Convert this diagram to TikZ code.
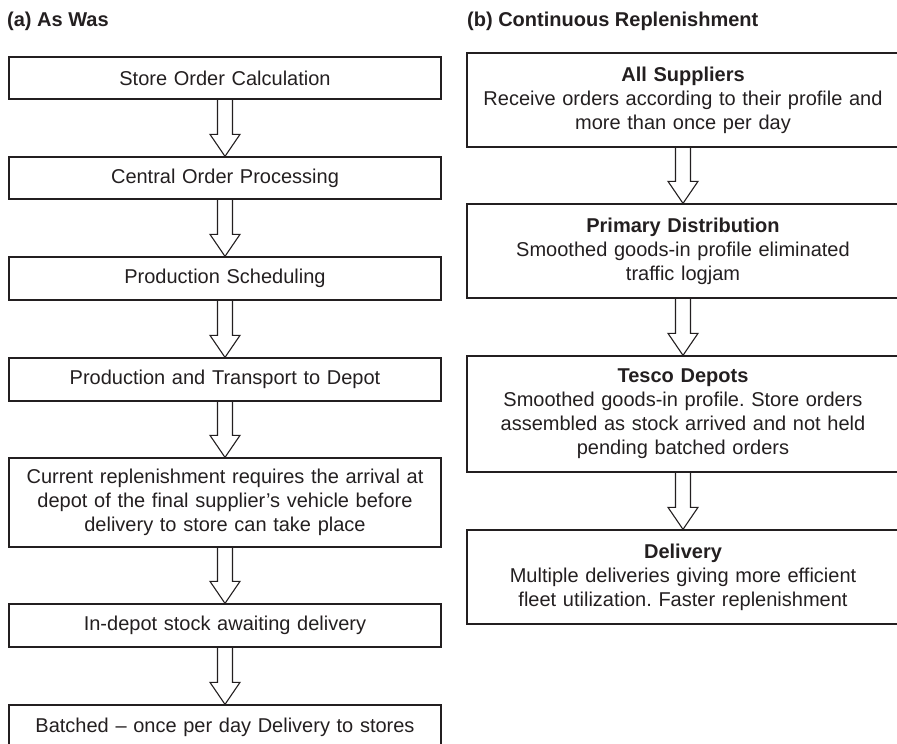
\documentclass[tikz,border=0pt]{standalone}
\usepackage{fontspec}
\setmainfont{Liberation Sans}
\usetikzlibrary{calc}
\frenchspacing
\definecolor{ink}{HTML}{231F20}
\tikzset{
  stage/.style={draw=ink, line width=1.3pt, text=ink, minimum width=432pt, inner sep=0pt,
    text width=420pt, align=center, font=\fontsize{20}{24}\selectfont},
  flow/.style={draw=ink, line width=1.1pt, line join=miter},
  heading/.style={anchor=base west, inner sep=0pt, text=ink, font=\bfseries\fontsize{20}{24}\selectfont}
}
% hollow block arrow from one stage to the next
\newcommand{\blockarrow}[2]{%
  \draw[flow] let \p1=(#1.south), \p2=(#2.north) in
    (\x1-7.5pt,\y1) -- (\x1-7.5pt,\y2+22pt) -- (\x1-15pt,\y2+22pt) -- (\x1,\y2)
    -- (\x1+15pt,\y2+22pt) -- (\x1+7.5pt,\y2+22pt) -- (\x1+7.5pt,\y1);
}
\begin{document}
\begin{tikzpicture}[x=1pt,y=-1pt]
\useasboundingbox (0,0) rectangle (897,744);
\clip (0,0) rectangle (897,744);
\node[heading] (ta) at (7,27) {(a) As Was};
\node[heading] (tb) at (467,27) {(b) Continuous Replenishment};
% (a) as was
\node[stage, minimum height=42pt] (calc) at (225,78) {Store Order Calculation};
\node[stage, minimum height=42pt] (proc) at (225,178) {Central Order Processing};
\node[stage, minimum height=43pt] (sched) at (225,278.5) {Production Scheduling};
\node[stage, minimum height=43pt] (transp) at (225,379.5) {Production and Transport to Depot};
\node[stage, minimum height=89pt] (curr) at (225,502.5) {Current replenishment requires the arrival at\\depot of the final supplier's vehicle before\\delivery to store can take place};
\node[stage, minimum height=43pt] (stock) at (225,625.5) {In-depot stock awaiting delivery};
\node[stage, minimum height=44pt] (batch) at (225,727) {Batched -- once per day Delivery to stores};
% (b) continuous replenishment
\node[stage, minimum height=94pt] (sup) at (683,100) {\textbf{All Suppliers}\\Receive orders according to their profile and\\more than once per day};
\node[stage, minimum height=94pt] (prim) at (683,251) {\textbf{Primary Distribution}\\Smoothed goods-in profile eliminated\\traffic logjam};
\node[stage, minimum height=116pt] (depot) at (683,414) {\textbf{Tesco Depots}\\Smoothed goods-in profile. Store orders\\assembled as stock arrived and not held\\pending batched orders};
\node[stage, minimum height=94pt] (deliv) at (683,577) {\textbf{Delivery}\\Multiple deliveries giving more efficient\\fleet utilization. Faster replenishment};
\foreach \a/\b in {calc/proc, proc/sched, sched/transp, transp/curr, curr/stock, stock/batch,
  sup/prim, prim/depot, depot/deliv}
  \blockarrow{\a}{\b};
\end{tikzpicture}
\end{document}
